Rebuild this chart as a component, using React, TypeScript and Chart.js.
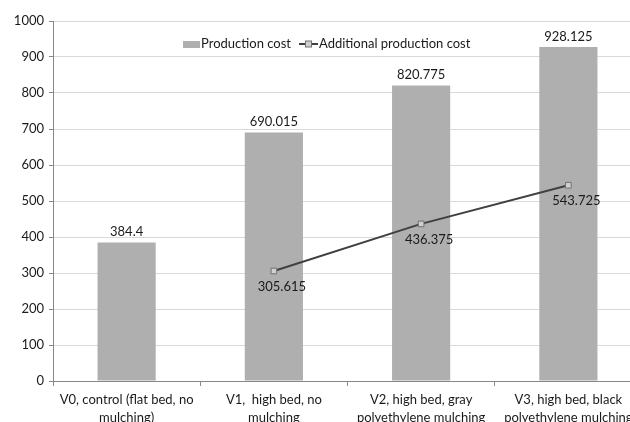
import React, { useEffect, useRef } from "react";
import { Chart, registerables } from "chart.js";

Chart.register(...registerables);

const categories: string[][] = [
  ["V0, control (flat bed, no", "mulching)"],
  ["V1,  high bed, no", "mulching"],
  ["V2, high bed, gray", "polyethylene mulching"],
  ["V3, high bed, black", "polyethylene mulching"],
];
const productionCost = [384.4, 690.015, 820.775, 928.125];
const additionalCost = [null, 305.615, 436.375, 543.725];
const yTicks = { min: 0, max: 1000, step: 100 };

const FONT = "Lato, 'Open Sans', sans-serif";
const TEXT = "#1a1a1a";
const BAR = "#afafaf";
const LINE = "#404040";

const W = 680;
const H = 450;

const labelsPlugin = {
  id: "valueLabels",
  afterDatasetsDraw(chart: any) {
    const ctx = chart.ctx;
    ctx.save();
    ctx.font = `13px ${FONT}`;
    ctx.fillStyle = TEXT;
    ctx.textAlign = "center";
    const bars = chart.getDatasetMeta(0).data;
    bars.forEach((el: any, i: number) => {
      ctx.textBaseline = "bottom";
      ctx.fillText(String(productionCost[i]), el.x, el.y - 4);
    });
    const pts = chart.getDatasetMeta(1).data;
    pts.forEach((el: any, i: number) => {
      const v = additionalCost[i];
      if (v == null) return;
      ctx.textBaseline = "top";
      ctx.fillText(String(v), el.x + 8, el.y + 9);
    });
    ctx.restore();
  },
  afterDraw(chart: any) {
    const ctx = chart.ctx;
    ctx.save();
    ctx.font = `13px ${FONT}`;
    ctx.fillStyle = TEXT;
    ctx.textBaseline = "middle";
    ctx.textAlign = "left";
    const y = 44;
    // bar swatch
    ctx.fillStyle = BAR;
    ctx.fillRect(183, 41, 17, 7);
    ctx.fillStyle = TEXT;
    ctx.fillText("Production cost", 201, y);
    // line swatch with marker
    ctx.strokeStyle = LINE;
    ctx.lineWidth = 2;
    ctx.beginPath();
    ctx.moveTo(299, y);
    ctx.lineTo(318, y);
    ctx.stroke();
    ctx.fillStyle = "#d0d0d0";
    ctx.fillRect(305.5, y - 3, 6, 6);
    ctx.strokeStyle = "#707070";
    ctx.lineWidth = 1;
    ctx.strokeRect(305.5, y - 3, 6, 6);
    ctx.fillStyle = TEXT;
    ctx.fillText("Additional production cost", 319, y);
    ctx.restore();
  },
};

export default function App() {
  const ref = useRef<HTMLCanvasElement>(null);

  useEffect(() => {
    if (!ref.current) return;
    const chart = new Chart(ref.current, {
      type: "bar",
      data: {
        labels: categories,
        datasets: [
          {
            type: "bar",
            label: "Production cost",
            data: productionCost,
            backgroundColor: BAR,
            barPercentage: 0.395,
            categoryPercentage: 1,
            order: 2,
          },
          {
            type: "line",
            label: "Additional production cost",
            data: additionalCost as any,
            borderColor: LINE,
            borderWidth: 2,
            pointStyle: "rect",
            pointRadius: 4,
            pointBackgroundColor: "#d0d0d0",
            pointBorderColor: "#707070",
            pointBorderWidth: 1,
            spanGaps: false,
            order: 1,
          },
        ],
      },
      options: {
        responsive: false,
        animation: false,
        layout: { padding: { top: 21, right: W - 642, bottom: 0, left: 0 } },
        plugins: {
          legend: { display: false },
          tooltip: { enabled: false },
        },
        scales: {
          x: {
            offset: true,
            grid: {
              offset: true,
              drawOnChartArea: false,
              drawTicks: true,
              tickLength: 5,
              tickColor: "#888888",
            },
            border: { color: "#888888", width: 1 },
            ticks: {
              autoSkip: false,
              maxRotation: 0,
              minRotation: 0,
              padding: 5,
              color: TEXT,
              font: { family: FONT, size: 13, lineHeight: 1.4 },
            },
            afterFit(scale: any) {
              scale.height = H - 381;
            },
          },
          y: {
            min: yTicks.min,
            max: yTicks.max,
            ticks: {
              stepSize: yTicks.step,
              padding: 5,
              color: TEXT,
              font: { family: FONT, size: 13 },
              callback: (v: any) => String(v),
            },
            grid: {
              color: "#d9d9d9",
              lineWidth: 1,
              tickLength: 4,
              tickColor: "#888888",
            },
            border: { color: "#888888", width: 1 },
            afterFit(scale: any) {
              scale.width = 53;
            },
          },
        },
      },
      plugins: [labelsPlugin],
    });
    return () => chart.destroy();
  }, []);

  return (
    <div
      style={{
        position: "absolute",
        left: 0,
        top: 0,
        width: 630,
        height: 422,
        overflow: "hidden",
        background: "#fff",
      }}
    >
      <canvas ref={ref} width={W} height={H} style={{ width: W, height: H, display: "block" }} />
    </div>
  );
}
